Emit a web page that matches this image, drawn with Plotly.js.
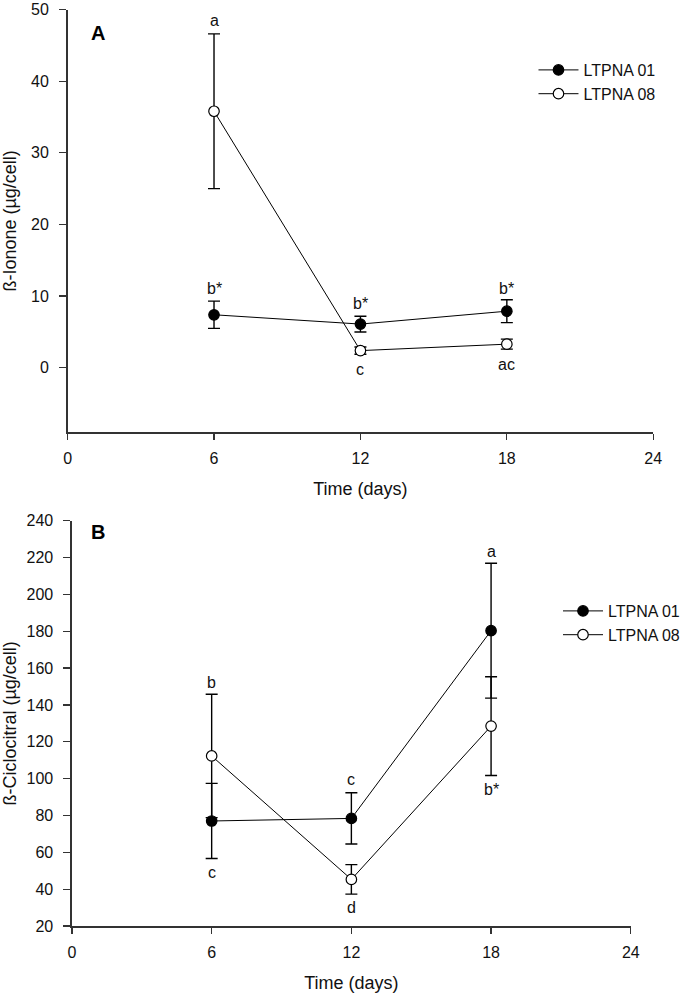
<!DOCTYPE html>
<html>
<head>
<meta charset="utf-8">
<script src="https://cdn.plot.ly/plotly-3.0.1.min.js"></script>
<style>html,body{margin:0;padding:0;background:#fff;}#chart{width:685px;height:994px;}</style>
</head>
<body>
<div id="chart"></div>
<script>
// ---- Data ----
const days = [6, 12, 18];
const seriesNames = ["LTPNA 01", "LTPNA 08"];

// Panel A: ß-Ionone (µg/cell)
const ionone01 = [7.4, 6.1, 7.9];
const ionone01Err = [1.9, 1.1, 1.6];
const ionone08 = [35.8, 2.4, 3.3];
const ionone08Err = [10.8, 0.5, 0.7];

// Panel B: ß-Ciclocitral (µg/cell)
const ciclo01 = [77.0, 78.4, 180.3];
const ciclo01Err = [20.4, 13.9, 36.6];
const ciclo08 = [112.3, 45.3, 128.5];
const ciclo08Err = [33.5, 8.0, 26.8];

// Significance letters
const labelsA_x = [6, 6, 12, 12, 18, 18];
const labelsA_y = [48.4, 11.1, 9.0, -0.3, 11.1, 0.4];
const labelsA_text = ["a", "b*", "b*", "c", "b*", "ac"];
const labelsB_x = [6, 6, 12, 12, 18, 18];
const labelsB_y = [152.4, 48.8, 99.4, 30.2, 223.4, 94.0];
const labelsB_text = ["b", "c", "c", "d", "a", "b*"];

const xTicks = [0, 6, 12, 18, 24];
const yTicksA = [0, 10, 20, 30, 40, 50];
const yTicksB = [20, 40, 60, 80, 100, 120, 140, 160, 180, 200, 220, 240];

// ---- Styling ----
const FONT = "Liberation Sans, Arial, sans-serif";
const W = 685, H = 994;
const axisColor = "#333";

function trace(y, err, name, filled, xa, ya, legend) {
  return {
    type: "scatter", mode: "lines+markers",
    x: days, y: y, name: name, xaxis: xa, yaxis: ya, legend: legend,
    line: {color: "#000", width: 1},
    marker: {size: 10.5, color: filled ? "#000" : "#fff", line: {color: "#000", width: 1.2}},
    error_y: {type: "data", array: err, visible: true, color: "#000", thickness: 1.4, width: 6}
  };
}

const data = [
  trace(ionone08, ionone08Err, seriesNames[1], false, "x", "y", "legend"),
  trace(ionone01, ionone01Err, seriesNames[0], true, "x", "y", "legend"),
  trace(ciclo08, ciclo08Err, seriesNames[1], false, "x2", "y2", "legend2"),
  trace(ciclo01, ciclo01Err, seriesNames[0], true, "x2", "y2", "legend2")
];

function px(v) { return v / W; }
function py(v) { return 1 - v / H; }

const tickFont = {family: FONT, size: 16, color: "#111"};
const titleFont = {family: FONT, size: 18, color: "#111"};

const xaxisBase = {
  range: [0, 24], tickvals: xTicks, ticktext: xTicks.map(String),
  showgrid: false, zeroline: false, showline: true, linecolor: axisColor, linewidth: 1.5,
  ticks: "outside", ticklen: 6, tickwidth: 1.3, tickcolor: axisColor,
  tickfont: tickFont, ticklabelstandoff: 5, ticklabeloverflow: "allow",
  fixedrange: true
};
const yaxisBase = {
  showgrid: false, zeroline: false, showline: true, linecolor: axisColor, linewidth: 1.5,
  ticks: "outside", ticklen: 7, tickwidth: 1.3, tickcolor: axisColor,
  tickfont: tickFont, ticklabelstandoff: 7, ticklabeloverflow: "allow",
  fixedrange: true
};

const annotations = [];
labelsA_text.forEach((t, i) => annotations.push({
  x: labelsA_x[i], y: labelsA_y[i], xref: "x", yref: "y", text: t, showarrow: false,
  font: {family: FONT, size: 16, color: "#111"}
}));
labelsB_text.forEach((t, i) => annotations.push({
  x: labelsB_x[i], y: labelsB_y[i], xref: "x2", yref: "y2", text: t, showarrow: false,
  font: {family: FONT, size: 16, color: "#111"}
}));
annotations.push({x: px(90), y: py(20), xref: "paper", yref: "paper", text: "<b>A</b>", showarrow: false,
  font: {family: FONT, size: 20, color: "#000"}});
annotations.push({x: px(90), y: py(532), xref: "paper", yref: "paper", text: "<b>B</b>", showarrow: false,
  font: {family: FONT, size: 20, color: "#000"}});

const layout = {
  width: W, height: H,
  margin: {l: 0, r: 0, t: 0, b: 0},
  paper_bgcolor: "#fff", plot_bgcolor: "#fff",
  font: {family: FONT, color: "#111"},
  xaxis: Object.assign({}, xaxisBase, {
    domain: [px(68.3), px(660)], anchor: "y",
    title: {text: "Time (days)", font: titleFont, standoff: 16}
  }),
  yaxis: Object.assign({}, yaxisBase, {
    domain: [py(432.3), py(9.5)], anchor: "x", range: [-9, 50], tickvals: yTicksA,
    title: {text: "ß-Ionone (µg/cell)", font: titleFont, standoff: 12}
  }),
  xaxis2: Object.assign({}, xaxisBase, {
    domain: [px(72.7), px(637.3)], anchor: "y2",
    title: {text: "Time (days)", font: titleFont, standoff: 16}
  }),
  yaxis2: Object.assign({}, yaxisBase, {
    domain: [py(926), py(520.7)], anchor: "x2", range: [20, 240], tickvals: yTicksB,
    title: {text: "ß-Ciclocitral (µg/cell)", font: titleFont, standoff: 12}
  }),
  legend: {x: px(539), y: py(53), xanchor: "left", yanchor: "top", traceorder: "reversed",
    itemwidth: 40, tracegroupgap: 0,
    bgcolor: "rgba(0,0,0,0)", font: {family: FONT, size: 16, color: "#111"}},
  legend2: {x: px(564), y: py(594), xanchor: "left", yanchor: "top", traceorder: "reversed",
    itemwidth: 40, tracegroupgap: 0,
    bgcolor: "rgba(0,0,0,0)", font: {family: FONT, size: 16, color: "#111"}},
  annotations: annotations
};

Plotly.newPlot("chart", data, layout, {displayModeBar: false, staticPlot: true});
</script>
</body>
</html>
